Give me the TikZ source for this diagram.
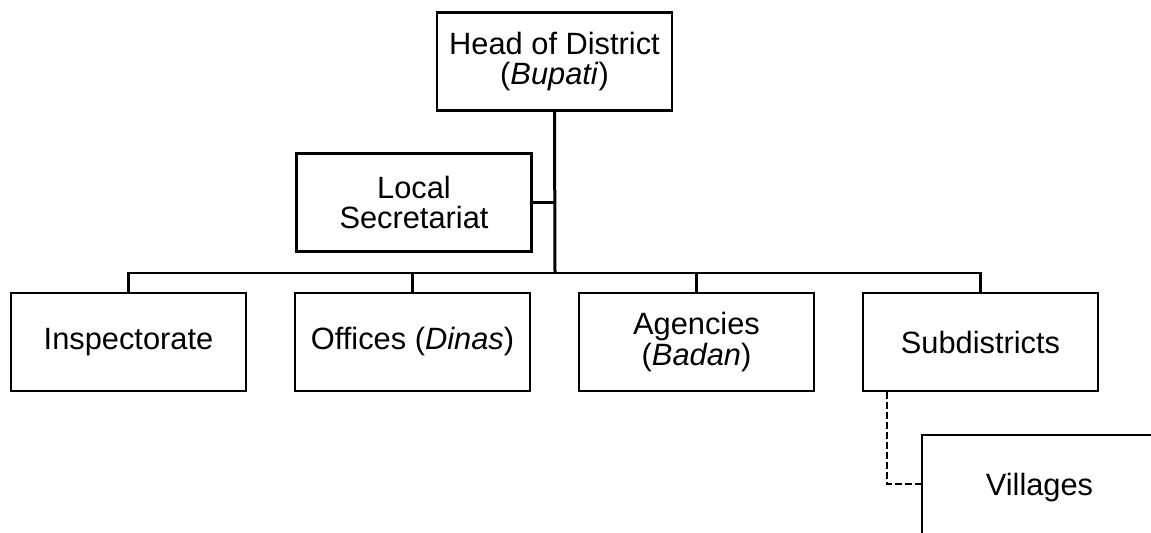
\documentclass[tikz,border=0pt]{standalone}
\usepackage{fontspec}
\setmainfont{Liberation Sans}
\begin{document}
\begin{tikzpicture}[x=0.5pt,y=-0.5pt,
  unit/.style={draw, line width=1.4pt, minimum width=117.5pt, minimum height=49pt,
    inner sep=0pt, align=center, font=\fontsize{15.4}{15.2}\selectfont},
  trunk/.style={line width=1.5pt},
  link/.style={line width=1.1pt},
  subordinate/.style={line width=1.2pt, dash pattern=on 3.4pt off 1.6pt}]
\useasboundingbox (0,0) rectangle (1151,532);
\clip (0,0) rectangle (1151,532);

% boxes
\node[unit] (head) at (554.5,61.5) {Head of District\\(\textit{Bupati})};
\node[unit] (sec)  at (414,202.5) {Local\\Secretariat};
\node[unit] (insp) at (128.5,342) {Inspectorate};
\node[unit] (off)  at (412.5,342) {Offices (\textit{Dinas})};
\node[unit] (agc)  at (696.5,342) {Agencies\\(\textit{Badan})};
\node[unit] (sub)  at (980.5,342) {Subdistricts};
\node[unit, minimum height=53pt] (vil) at (1039.5,488) {Villages};

% connectors
\coordinate (bus) at (555,273);
\coordinate (dashx) at (887,0);
\coordinate (vilin) at (922,484);
\draw[trunk] (head.south) -- (bus);
\draw[link] (sec.east) -- (sec.east -| head.south);
\draw[link] (insp.north) |- (sub.north |- bus) -- (sub.north);
\draw[link] (off.north) -- (off.north |- bus);
\draw[link] (agc.north) -- (agc.north |- bus);
\draw[subordinate] (sub.south -| dashx) |- (vilin);
\end{tikzpicture}
\end{document}
